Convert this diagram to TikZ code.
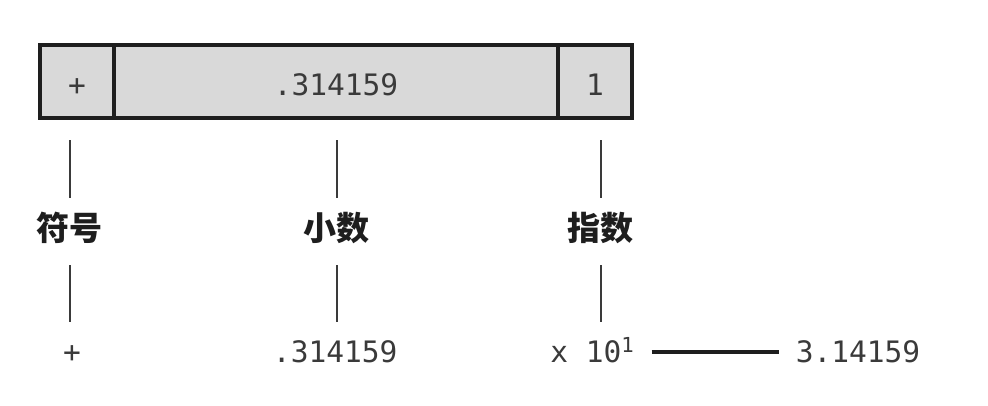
\documentclass[tikz,border=0pt]{standalone}
\usepackage{fontspec}
\setmonofont{DejaVu Sans Mono}
\newfontfamily\cjk{Noto Sans CJK SC}
\usepackage{xcolor}
\definecolor{cellGray}{HTML}{D9D9D9}
\definecolor{inkDark}{HTML}{1E1E1E}
\definecolor{textGray}{HTML}{3A3A3A}
\usetikzlibrary{positioning}

\begin{document}
\begin{tikzpicture}[
    cell/.style={draw=inkDark, fill=cellGray, line width=2.8pt, outer sep=0pt,
                 minimum height=1.825cm, inner sep=0pt, text=textGray,
                 text height=0.8cm, text depth=0.11cm,
                 font=\ttfamily\fontsize{21}{25}\selectfont},
    tag/.style={inner sep=0pt, text height=0.73cm, text depth=0.1cm,
                text=inkDark, font=\cjk\bfseries\fontsize{23.5}{26}\selectfont},
    num/.style={inner sep=0pt, text height=0.54cm, text depth=0pt, text=textGray,
                font=\ttfamily\fontsize{21}{25}\selectfont},
    tick/.style={draw=textGray, line width=1.1pt},
    link/.style={draw=inkDark, line width=2.2pt}]
  \useasboundingbox (0,0) rectangle (24.7,-10.125);
  % the stored number
  \node[cell, minimum width=1.85cm] (sgn) at (1.925,-2.0375) {+};
  \node[cell, minimum width=11.1cm, right=0pt of sgn] (frac) {.314159};
  \node[cell, minimum width=1.85cm, right=0pt of frac] (expo) {1};
  % part names
  \node[tag] (sgnname) at (1.75,-5.7) {符号};
  \node[tag] (fracname) at (8.42,-5.7) {小数};
  \node[tag] (exponame) at (15.02,-5.7) {指数};
  % values
  \node[num] (sgnval) at (1.8,-8.8) {+};
  \node[num] (fracval) at (8.38,-8.8) {.314159};
  \node[num, anchor=west] (expoval) at (13.75,-8.8) {x 10\textsuperscript{1}};
  \node[num] (result) at (21.45,-8.8) {3.14159};
  \draw[tick, shorten <=0.55cm, shorten >=0.335cm] (sgn.south -| sgnname) -- (sgnname.north);
  \draw[tick, shorten <=0.55cm, shorten >=0.335cm] (frac.south -| fracname) -- (fracname.north);
  \draw[tick, shorten <=0.55cm, shorten >=0.335cm] (expo.south -| exponame) -- (exponame.north);
  \draw[tick, shorten <=0.51cm, shorten >=0.48cm] (sgnname.south) -- (sgnname.south |- sgnval.north);
  \draw[tick, shorten <=0.51cm, shorten >=0.48cm] (fracname.south) -- (fracname.south |- fracval.north);
  \draw[tick, shorten <=0.51cm, shorten >=0.48cm] (exponame.south) -- (exponame.south |- expoval.north);
  \draw[link, shorten <=0.42cm, shorten >=0.42cm] (expoval.east) -- (result.west);
\end{tikzpicture}
\end{document}
